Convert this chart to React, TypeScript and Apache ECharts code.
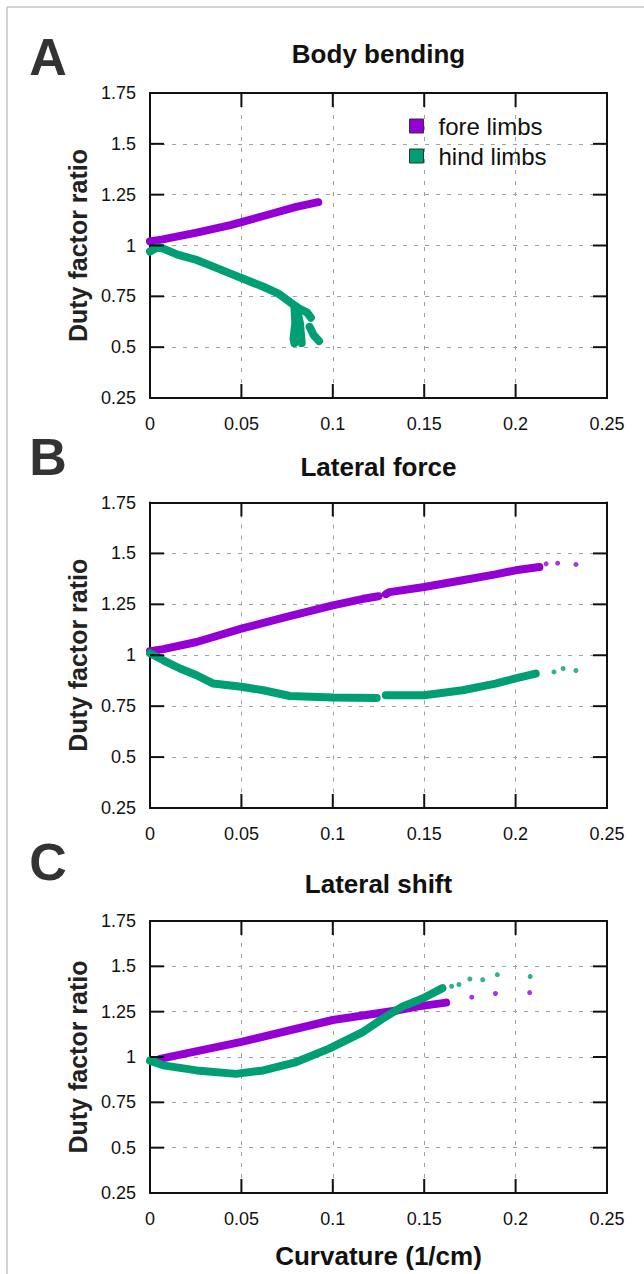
import React, { useEffect, useRef } from "react";
import * as echarts from "echarts";

// ---- axis ticks ----
const X_MIN = 0;
const X_MAX = 0.25;
const X_STEP = 0.05;
const Y_MIN = 0.25;
const Y_MAX = 1.75;
const Y_STEP = 0.25;
const X_INNER_TICKS = [0.05, 0.1, 0.15, 0.2];
const Y_INNER_TICKS = [0.5, 0.75, 1, 1.25, 1.5];

const PANEL_TITLES = ["Body bending", "Lateral force", "Lateral shift"];
const PANEL_LETTERS = ["A", "B", "C"];
const SERIES_NAMES = ["fore limbs", "hind limbs"];

// ---- Panel A: body bending ----
const foreA_x = [0, 0.007, 0.0255, 0.044, 0.062, 0.08, 0.092];
const foreA_y = [1.02, 1.03, 1.063, 1.1, 1.145, 1.19, 1.213];

const hindA_x = [0, 0.004, 0.0073, 0.015, 0.0255, 0.035, 0.0437, 0.05, 0.062, 0.07, 0.08];
const hindA_y = [0.97, 0.99, 0.985, 0.955, 0.929, 0.895, 0.863, 0.84, 0.797, 0.765, 0.699];
const hindA_b1_x = [0.079, 0.0795, 0.0785, 0.079];
const hindA_b1_y = [0.7, 0.62, 0.54, 0.52];
const hindA_b2_x = [0.08, 0.082, 0.083];
const hindA_b2_y = [0.7, 0.62, 0.52];
const hindA_b3_x = [0.0795, 0.086, 0.088];
const hindA_b3_y = [0.7, 0.67, 0.645];
const hindA_b4_x = [0.0873, 0.0895, 0.0925];
const hindA_b4_y = [0.6, 0.56, 0.53];

// ---- Panel B: lateral force ----
const foreB_x = [0, 0.0073, 0.0255, 0.05, 0.0747, 0.1, 0.116, 0.125, 0.127, 0.129, 0.131, 0.15, 0.171, 0.189, 0.2, 0.213];
const foreB_y = [1.02, 1.03, 1.065, 1.131, 1.188, 1.245, 1.276, 1.29, null, 1.3, 1.31, 1.335, 1.368, 1.397, 1.417, 1.433];
const foreB_dots_x = [0.2167, 0.223, 0.233];
const foreB_dots_y = [1.449, 1.452, 1.446];

const hindB_x = [0, 0.0073, 0.0164, 0.0255, 0.0346, 0.05, 0.062, 0.0765, 0.1, 0.124, 0.127, 0.129, 0.15, 0.171, 0.189, 0.2, 0.211];
const hindB_y = [1.01, 0.975, 0.935, 0.902, 0.861, 0.845, 0.828, 0.8, 0.792, 0.79, null, 0.804, 0.804, 0.828, 0.861, 0.886, 0.91];
const hindB_dots_x = [0.221, 0.226, 0.233];
const hindB_dots_y = [0.918, 0.935, 0.925];

// ---- Panel C: lateral shift ----
const foreC_x = [0.0055, 0.05, 0.1, 0.1348, 0.146, 0.162];
const foreC_y = [0.99, 1.083, 1.204, 1.256, 1.278, 1.3];
const foreC_dots_x = [0.176, 0.189, 0.2077];
const foreC_dots_y = [1.33, 1.35, 1.355];

const hindC_x = [0, 0.0073, 0.0255, 0.047, 0.062, 0.08, 0.098, 0.1166, 0.1275, 0.138, 0.1494, 0.16];
const hindC_y = [0.98, 0.954, 0.926, 0.907, 0.926, 0.972, 1.046, 1.139, 1.213, 1.278, 1.324, 1.38];
const hindC_dots_x = [0.165, 0.169, 0.175, 0.182, 0.19, 0.208];
const hindC_dots_y = [1.39, 1.4, 1.43, 1.426, 1.454, 1.444];

const PURPLE = "#9400D3";
const GREEN = "#009E73";
const FONT = "Liberation Sans";
const TICK_LEN = 14;

const pairs = (xs: number[], ys: (number | null)[]) =>
  xs.map((x, i) => [x, ys[i] === null ? "-" : ys[i]]);

const GRIDS = [
  { left: 150, top: 93, width: 457, height: 305 },
  { left: 150, top: 502.5, width: 457, height: 305.5 },
  { left: 150, top: 921, width: 457, height: 272 },
];

export default function App() {
  const ref = useRef<HTMLDivElement>(null);

  useEffect(() => {
    if (!ref.current) return;
    const chart = echarts.init(ref.current, null, { renderer: "svg" });

    const fmt = (v: number) => String(Math.round(v * 100) / 100);
    const noTick = { show: false };
    const mkLine = () => ({ show: true, onZero: false, lineStyle: { color: "#111", width: 2 } });
    const mkDashed = () => ({ show: true, lineStyle: { color: "#a0a0a0", width: 1, type: [4, 7] as any } });

    const xAxes: any[] = [];
    const yAxes: any[] = [];
    GRIDS.forEach((_, i) => {
      xAxes.push({
        type: "value", gridIndex: i, position: "bottom",
        min: X_MIN, max: X_MAX, interval: X_STEP,
        axisLine: mkLine(), axisTick: noTick, splitLine: mkDashed(),
        axisLabel: { fontSize: 18, color: "#111", fontFamily: FONT, margin: 17, formatter: fmt },
        ...(i === 2
          ? {
              name: "Curvature (1/cm)", nameLocation: "middle", nameGap: 50,
              nameTextStyle: { fontSize: 26, fontWeight: "bold", color: "#111", fontFamily: FONT },
            }
          : {}),
      });
      xAxes.push({
        type: "value", gridIndex: i, position: "top",
        min: X_MIN, max: X_MAX, interval: X_STEP,
        axisLine: mkLine(), axisTick: noTick, splitLine: { show: false }, axisLabel: { show: false },
      });
      yAxes.push({
        type: "value", gridIndex: i, position: "left",
        min: Y_MIN, max: Y_MAX, interval: Y_STEP,
        axisLine: mkLine(), axisTick: noTick, splitLine: mkDashed(),
        axisLabel: { fontSize: 18, color: "#111", fontFamily: FONT, margin: 14, formatter: fmt },
        name: "Duty factor ratio", nameLocation: "middle", nameGap: 60,
        nameTextStyle: { fontSize: 25, fontWeight: "bold", color: "#222", fontFamily: FONT },
      });
      yAxes.push({
        type: "value", gridIndex: i, position: "right",
        min: Y_MIN, max: Y_MAX, interval: Y_STEP,
        axisLine: mkLine(), axisTick: noTick, splitLine: { show: false }, axisLabel: { show: false },
      });
    });

    const line = (name: string, color: string, gi: number, data: any[]) => ({
      type: "line", name, xAxisIndex: gi * 2, yAxisIndex: gi * 2,
      data, showSymbol: false, symbol: "none", connectNulls: false,
      itemStyle: { color },
      lineStyle: { color, width: 8, cap: "round", join: "round" },
      z: 3,
    });
    const dots = (name: string, color: string, gi: number, data: any[]) => ({
      type: "scatter", name, xAxisIndex: gi * 2, yAxisIndex: gi * 2,
      data, symbolSize: 5, itemStyle: { color }, z: 3,
    });

    const [FORE, HIND] = SERIES_NAMES;
    const series = [
      line(FORE, PURPLE, 0, pairs(foreA_x, foreA_y)),
      line(HIND, GREEN, 0, pairs(hindA_x, hindA_y)),
      line(HIND, GREEN, 0, pairs(hindA_b1_x, hindA_b1_y)),
      line(HIND, GREEN, 0, pairs(hindA_b2_x, hindA_b2_y)),
      line(HIND, GREEN, 0, pairs(hindA_b3_x, hindA_b3_y)),
      line(HIND, GREEN, 0, pairs(hindA_b4_x, hindA_b4_y)),
      line(FORE, PURPLE, 1, pairs(foreB_x, foreB_y)),
      dots(FORE, PURPLE, 1, pairs(foreB_dots_x, foreB_dots_y)),
      line(HIND, GREEN, 1, pairs(hindB_x, hindB_y)),
      dots(HIND, GREEN, 1, pairs(hindB_dots_x, hindB_dots_y)),
      line(FORE, PURPLE, 2, pairs(foreC_x, foreC_y)),
      dots(FORE, PURPLE, 2, pairs(foreC_dots_x, foreC_dots_y)),
      line(HIND, GREEN, 2, pairs(hindC_x, hindC_y)),
      dots(HIND, GREEN, 2, pairs(hindC_dots_x, hindC_dots_y)),
    ];

    const titleCenters = [55, 468, 885];
    const letterCenters = [57, 457, 862];

    chart.setOption({
      animation: false,
      backgroundColor: "#fff",
      title: PANEL_TITLES.map((t, i) => ({
        text: t, left: 378.5, top: titleCenters[i] - 14, textAlign: "center", padding: 0,
        textStyle: { fontSize: 26, fontWeight: "bold", color: "#111", fontFamily: FONT },
      })),
      legend: {
        data: SERIES_NAMES, orient: "vertical", left: 409, top: 114, padding: 0,
        itemWidth: 14, itemHeight: 14, itemGap: 6, icon: "rect",
        itemStyle: { borderColor: "#333", borderWidth: 1 },
        textStyle: { fontSize: 24, color: "#111", fontFamily: FONT, padding: [0, 0, 0, 10] },
        selectedMode: false,
      },
      grid: GRIDS.map((g) => ({ ...g, containLabel: false })),
      xAxis: xAxes,
      yAxis: yAxes,
      series,
    });

    // inward, mirrored ticks (gnuplot style), positioned through the axes' scales
    const tickStyle = { stroke: "#111", lineWidth: 2 };
    const tickEls: any[] = [];
    GRIDS.forEach((_, gi) => {
      const finder = { xAxisIndex: gi * 2, yAxisIndex: gi * 2 };
      const toPx = (x: number, y: number) => chart.convertToPixel(finder, [x, y]) as number[];
      X_INNER_TICKS.forEach((v) => {
        const b = toPx(v, Y_MIN);
        const t = toPx(v, Y_MAX);
        if (!b || !t) return;
        tickEls.push({ type: "line", z: 100, silent: true, shape: { x1: b[0], y1: b[1], x2: b[0], y2: b[1] - TICK_LEN }, style: tickStyle });
        tickEls.push({ type: "line", z: 100, silent: true, shape: { x1: t[0], y1: t[1], x2: t[0], y2: t[1] + TICK_LEN }, style: tickStyle });
      });
      Y_INNER_TICKS.forEach((v) => {
        const l = toPx(X_MIN, v);
        const r = toPx(X_MAX, v);
        if (!l || !r) return;
        tickEls.push({ type: "line", z: 100, silent: true, shape: { x1: l[0], y1: l[1], x2: l[0] + TICK_LEN, y2: l[1] }, style: tickStyle });
        tickEls.push({ type: "line", z: 100, silent: true, shape: { x1: r[0], y1: r[1], x2: r[0] - TICK_LEN, y2: r[1] }, style: tickStyle });
      });
    });

    chart.setOption({
      graphic: [
        { type: "line", shape: { x1: 7, y1: 7, x2: 644, y2: 7 }, style: { stroke: "#c4c4c4", lineWidth: 1.5 } },
        { type: "line", shape: { x1: 7, y1: 7, x2: 7, y2: 1274 }, style: { stroke: "#c4c4c4", lineWidth: 1.5 } },
        ...PANEL_LETTERS.map((l, i) => ({
          type: "text", x: 48, y: letterCenters[i],
          style: { text: l, fontSize: 52, fontWeight: "bold", fontFamily: FONT, fill: "#333", align: "center", verticalAlign: "middle" },
        })),
        ...tickEls,
      ],
    });

    return () => chart.dispose();
  }, []);

  return (
    <div
      ref={ref}
      style={{ position: "absolute", left: 0, top: 0, width: 644, height: 1274 }}
    />
  );
}
